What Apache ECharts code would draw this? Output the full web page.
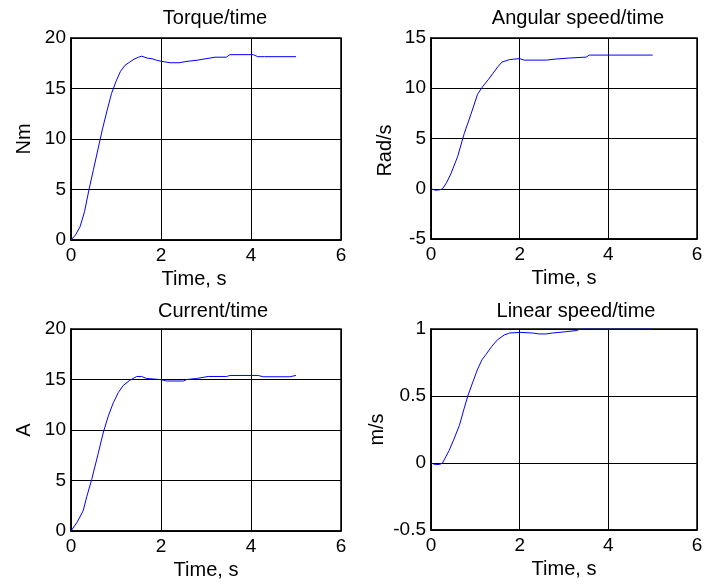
<!DOCTYPE html>
<html>
<head>
<meta charset="utf-8">
<script src="https://cdn.jsdelivr.net/npm/echarts@6/dist/echarts.min.js"></script>
<style>html,body{margin:0;padding:0;background:#fff;}#c{width:707px;height:584px;}</style>
</head>
<body>
<div id="c"></div>
<script>
// ---- data ----
var titles = ["Torque/time", "Angular speed/time", "Current/time", "Linear speed/time"];
var yNames = ["Nm", "Rad/s", "A", "m/s"];
var xName = "Time, s";

var torqueT = [0,0.1,0.2,0.3,0.4,0.5,0.6,0.7,0.8,0.9,1.0,1.1,1.2,1.3,1.4,1.5,1.57,1.7,1.8,1.9,2.0,2.2,2.4,2.6,2.8,3.0,3.2,3.45,3.53,4.05,4.15,4.3,5.0];
var torqueV = [0,0.5,1.3,2.8,5.0,7.0,9.0,11.0,12.8,14.5,15.7,16.7,17.3,17.6,17.9,18.1,18.2,18.0,17.95,17.8,17.7,17.55,17.55,17.7,17.8,17.95,18.1,18.1,18.35,18.35,18.15,18.15,18.15];

var angT = [0,0.1,0.2,0.26,0.35,0.45,0.6,0.75,0.9,1.05,1.17,1.3,1.4,1.5,1.6,1.77,2.0,2.1,2.6,2.8,3.1,3.5,3.57,5.0];
var angV = [0,-0.15,-0.1,0,0.6,1.5,3.2,5.5,7.4,9.4,10.2,10.9,11.5,12.1,12.6,12.85,12.95,12.8,12.8,12.9,13.0,13.1,13.3,13.3];

var curT = [0,0.14,0.27,0.35,0.46,0.6,0.72,0.83,0.94,1.05,1.16,1.3,1.46,1.57,1.68,1.98,2.13,2.5,2.57,2.79,3.05,3.46,3.53,4.16,4.27,4.86,5.0];
var curV = [0,0.9,2.0,3.4,5.1,7.6,9.8,11.4,12.7,13.7,14.4,14.9,15.3,15.3,15.1,15.0,14.85,14.85,15.0,15.1,15.3,15.3,15.4,15.4,15.27,15.27,15.4];

var linT = [0,0.1,0.2,0.26,0.41,0.52,0.64,0.75,0.83,0.95,1.05,1.15,1.24,1.37,1.5,1.65,1.77,2.0,2.29,2.44,2.59,2.74,3.05,3.27,3.38,5.0];
var linV = [0,-0.012,-0.01,0,0.094,0.18,0.28,0.41,0.5,0.61,0.70,0.77,0.81,0.87,0.92,0.955,0.97,0.975,0.97,0.963,0.963,0.97,0.98,0.988,1.0,1.0];

var yMin = [0, -5, 0, -0.5];
var yMax = [20, 15, 20, 1];
var yInt = [5, 5, 5, 0.5];
var xMin = 0, xMax = 6, xInt = 2;

// ---- chart ----
var FONT = '"Liberation Sans", Arial, sans-serif';
var grids = [
  {left: 71, top: 38, width: 270, height: 202},
  {left: 431, top: 38, width: 266, height: 201},
  {left: 71, top: 329, width: 270, height: 202},
  {left: 431, top: 329, width: 266, height: 201}
];
var titlePos = [[210, 3], [573, 3], [208, 296], [571, 296]];
var yGap = [37, 36, 37, 44];
var xNamePad = [[0,24,0,0], 0, 0, 0];
var yNamePad = [0, [0,24,0,0], 0, 0];
var seriesT = [torqueT, angT, curT, linT];
var seriesV = [torqueV, angV, curV, linV];

function pairs(t, v) { return t.map(function (x, i) { return [x, v[i]]; }); }

var option = {
  backgroundColor: '#fff',
  animation: false,
  title: titles.map(function (t, i) {
    return {text: t, left: titlePos[i][0], top: titlePos[i][1], textAlign: 'center',
      textStyle: {fontFamily: FONT, fontSize: 20, fontWeight: 'normal', color: '#000'}};
  }),
  grid: grids.map(function (g) {
    return Object.assign({show: true, borderColor: '#000', borderWidth: 1.5, backgroundColor: '#fff'}, g);
  }),
  xAxis: grids.map(function (g, i) {
    return {type: 'value', gridIndex: i, min: xMin, max: xMax, interval: xInt,
      name: xName, nameLocation: 'middle', nameGap: 29,
      nameTextStyle: {fontFamily: FONT, fontSize: 20, color: '#000', padding: xNamePad[i]},
      axisLine: {show: true, onZero: false, lineStyle: {color: '#000', width: 1.5}},
      axisTick: {show: false},
      axisLabel: {fontFamily: FONT, fontSize: 19, color: '#000', margin: 6},
      splitLine: {show: true, lineStyle: {color: '#000', width: 1}}};
  }),
  yAxis: grids.map(function (g, i) {
    return {type: 'value', gridIndex: i, min: yMin[i], max: yMax[i], interval: yInt[i],
      name: yNames[i], nameLocation: 'middle', nameGap: yGap[i],
      nameTextStyle: {fontFamily: FONT, fontSize: 20, color: '#000', padding: yNamePad[i]},
      axisLine: {show: true, onZero: false, lineStyle: {color: '#000', width: 1.5}},
      axisTick: {show: false},
      axisLabel: {fontFamily: FONT, fontSize: 19, color: '#000', margin: 5},
      splitLine: {show: true, lineStyle: {color: '#000', width: 1}}};
  }),
  series: seriesT.map(function (t, i) {
    return {type: 'line', xAxisIndex: i, yAxisIndex: i, data: pairs(t, seriesV[i]),
      showSymbol: false, symbol: 'none', smooth: false,
      lineStyle: {color: '#0000ff', width: 1}, itemStyle: {color: '#0000ff'}};
  })
};
var chart = echarts.init(document.getElementById('c'), null, {renderer: 'canvas'});
chart.setOption(option);
</script>
</body>
</html>
